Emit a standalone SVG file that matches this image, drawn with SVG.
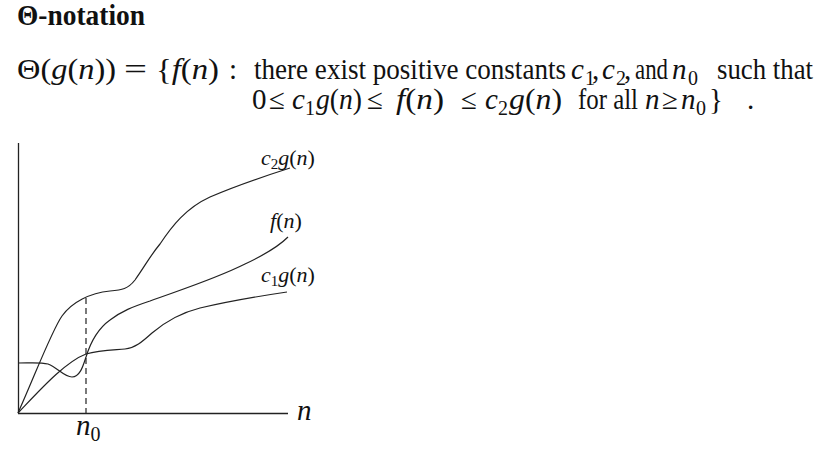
<svg xmlns="http://www.w3.org/2000/svg" width="823" height="451" viewBox="0 0 823 451">
<style>
.t{font-family:"Liberation Serif","Times New Roman",serif;fill:#111;font-size:29px}
.i{font-style:italic}
.sub{font-size:20px}
.lab{font-size:22px}
.lsub{font-size:15px}
.ax{stroke:#222;stroke-width:1.3;fill:none}
.cv{stroke:#222;stroke-width:1.2;fill:none}
.dash{stroke:#222;stroke-width:1.2;stroke-dasharray:6 4;fill:none}
</style>
<rect width="823" height="451" fill="#fff"/>
<g id="title">
<text class="t" x="17" y="25" font-size="27" font-weight="bold" textLength="128" lengthAdjust="spacingAndGlyphs">Θ-notation</text>
</g>
<g id="definition">
<text class="t" x="17" y="79" textLength="99" lengthAdjust="spacingAndGlyphs">Θ(<tspan class="i">g</tspan>(<tspan class="i">n</tspan>))</text>
<text class="t" x="124" y="79" textLength="23" lengthAdjust="spacingAndGlyphs">=</text>
<text class="t" x="156" y="79" textLength="63" lengthAdjust="spacingAndGlyphs">{<tspan class="i">f</tspan>(<tspan class="i">n</tspan>)</text>
<text class="t" x="229" y="79">:</text>
<text class="t" x="254" y="79" textLength="312" lengthAdjust="spacingAndGlyphs">there exist positive constants</text>
<text class="t" y="79"><tspan x="571" class="i">c</tspan><tspan x="585" dy="6" class="sub">1</tspan><tspan x="592" dy="-6">,</tspan><tspan x="602" class="i">c</tspan><tspan x="616" dy="6" class="sub">2</tspan><tspan x="624" dy="-6">,</tspan></text>
<text class="t" x="635" y="79" textLength="33" lengthAdjust="spacingAndGlyphs">and</text>
<text class="t" y="79"><tspan x="672" class="i">n</tspan><tspan x="688" dy="6" class="sub">0</tspan></text>
<text class="t" x="717" y="79" textLength="96" lengthAdjust="spacingAndGlyphs">such that</text>
<text class="t" y="109"><tspan x="252">0</tspan><tspan x="269">≤</tspan><tspan x="292" class="i">c</tspan><tspan x="305" dy="6" class="sub">1</tspan></text>
<text class="t" x="316" y="109" textLength="46" lengthAdjust="spacingAndGlyphs"><tspan class="i">g</tspan>(<tspan class="i">n</tspan>)</text>
<text class="t" x="367" y="109">≤</text>
<text class="t" x="396" y="109" textLength="48" lengthAdjust="spacingAndGlyphs"><tspan class="i">f</tspan>(<tspan class="i">n</tspan>)</text>
<text class="t" y="109"><tspan x="461">≤</tspan><tspan x="485" class="i">c</tspan><tspan x="498" dy="6" class="sub">2</tspan></text>
<text class="t" x="509" y="109" textLength="53" lengthAdjust="spacingAndGlyphs"><tspan class="i">g</tspan>(<tspan class="i">n</tspan>)</text>
<text class="t" x="578" y="109" textLength="60" lengthAdjust="spacingAndGlyphs">for all</text>
<text class="t" y="109"><tspan x="645" class="i">n</tspan><tspan x="662">≥</tspan><tspan x="681" class="i">n</tspan><tspan x="696" dy="6" class="sub">0</tspan><tspan x="709" dy="-6">}</tspan><tspan x="747">.</tspan></text>
</g>
<g id="axes">
<line class="ax" x1="18.5" y1="143" x2="18.5" y2="413.5"/>
<line class="ax" x1="18" y1="413.5" x2="288" y2="413.5"/>
<line class="dash" x1="86" y1="298" x2="86" y2="413"/>
</g>
<g id="curves">
<path id="c2g" class="cv" d="M18,413 C35,375 52,330 62,316 C72,302 90,293 110,291 C122,290 128,289 135,280 C145,266 150,256 160,244 C172,226 186,208 210,197 C240,184 265,176 290,168"/>
<path id="fn" class="cv" d="M18,363 C30,363 40,362 48,364 C58,368 64,377 72,377 C80,377 83,366 86,357 C90,344 96,330 110,320 C122,311 132,307 150,301 C180,290 215,279 245,264 C262,256 277,248 288,237"/>
<path id="c1g" class="cv" d="M18,413 C40,390 65,362 86,354 C100,350 115,350 125,349 C135,348 142,342 152,333 C165,322 180,313 200,308 C230,301 260,296 287,292"/>
</g>
<g id="labels">
<text class="t lab" y="165"><tspan x="261" class="i">c</tspan><tspan class="lsub" dy="4">2</tspan><tspan class="i" dy="-4">g</tspan><tspan>(</tspan><tspan class="i">n</tspan><tspan>)</tspan></text>
<text class="t lab" y="228"><tspan x="270" class="i">f</tspan><tspan>(</tspan><tspan class="i">n</tspan><tspan>)</tspan></text>
<text class="t lab" y="282"><tspan x="261" class="i">c</tspan><tspan class="lsub" dy="4">1</tspan><tspan class="i" dy="-4">g</tspan><tspan>(</tspan><tspan class="i">n</tspan><tspan>)</tspan></text>
<text class="t i" x="297" y="420" font-size="27">n</text>
<text class="t" y="435" font-size="27"><tspan x="76" class="i">n</tspan><tspan class="sub" dy="6">0</tspan></text>
</g>
</svg>
